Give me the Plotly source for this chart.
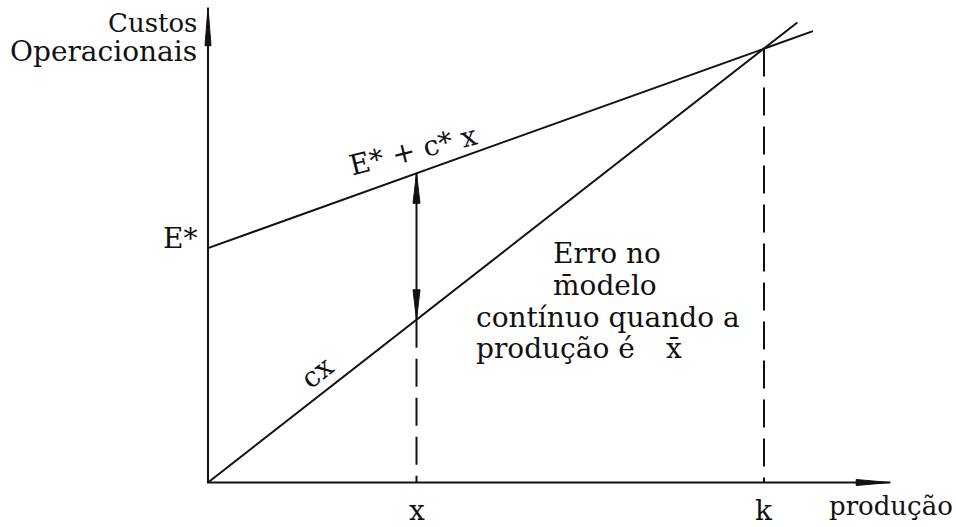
import plotly.graph_objects as go

# ---------------- data (model units) ----------------
x_bar = 3.75          # production level x̄
k = 10.0              # break-even production k
E_star = 5.4          # fixed cost E*
cost_at_k = 10.0      # cost where both lines meet
cost_cx_at_xbar = 3.75    # c·x̄
cost_e_at_xbar = 7.125    # E* + c*·x̄

cx_x = [0.0, 10.6]        # line c x
cx_y = [0.0, 10.6]
e_x = [0.0, 10.88]        # line E* + c* x
e_y = [5.4, 10.4]

x_axis_max = 12.27
y_axis_max = 10.94

x_tick_labels = ["x", "k"]
x_tick_vals = [x_bar, k]

# ---------------- pixel <-> data mapping ----------------
W, H = 956, 527
X0, SX = 208.0, 55.6     # px of x=0, px per unit
Y0, SY = 482.5, 43.4     # px of y=0, px per unit
xr = [(0 - X0) / SX, (W - X0) / SX]
yr = [(Y0 - H) / SY, (Y0 - 0) / SY]

def dx(px):  # pixel length -> data x
    return px / SX

def dy(px):
    return px / SY

def ax(px):  # pixel position -> data x
    return (px - X0) / SX

def ay(py):
    return (Y0 - py) / SY

FONT = "DejaVu Serif"
BLACK = "#111111"

fig = go.Figure()

# main lines
fig.add_trace(go.Scatter(x=cx_x, y=cx_y, mode="lines",
                         line=dict(color=BLACK, width=2), hoverinfo="skip"))
fig.add_trace(go.Scatter(x=e_x, y=e_y, mode="lines",
                         line=dict(color=BLACK, width=2), hoverinfo="skip"))
# dashed verticals
fig.add_trace(go.Scatter(x=[k, k], y=[cost_at_k, 0], mode="lines",
                         line=dict(color=BLACK, width=2, dash="28px,11px"),
                         hoverinfo="skip"))
fig.add_trace(go.Scatter(x=[x_bar, x_bar], y=[cost_cx_at_xbar, 0], mode="lines",
                         line=dict(color=BLACK, width=2, dash="28px,11px"),
                         hoverinfo="skip"))
# double arrow shaft
fig.add_trace(go.Scatter(x=[x_bar, x_bar], y=[cost_cx_at_xbar, cost_e_at_xbar],
                         mode="lines", line=dict(color=BLACK, width=2),
                         hoverinfo="skip"))
# axes
fig.add_trace(go.Scatter(x=[0, 0, x_axis_max], y=[y_axis_max, 0, 0], mode="lines",
                         line=dict(color=BLACK, width=2), hoverinfo="skip"))

shapes = []
def head(tipx, tipy, direction, length_px, half_px):
    if direction == "up":
        p = f"M {tipx-dx(half_px)},{tipy-dy(length_px)} L {tipx},{tipy} L {tipx+dx(half_px)},{tipy-dy(length_px)} Z"
    elif direction == "down":
        p = f"M {tipx-dx(half_px)},{tipy+dy(length_px)} L {tipx},{tipy} L {tipx+dx(half_px)},{tipy+dy(length_px)} Z"
    else:  # right
        p = f"M {tipx-dx(length_px)},{tipy+dy(half_px)} L {tipx},{tipy} L {tipx-dx(length_px)},{tipy-dy(half_px)} Z"
    return dict(type="path", path=p, xref="x", yref="y",
                fillcolor=BLACK, line=dict(color=BLACK, width=1))

shapes.append(head(0, y_axis_max, "up", 38, 3))
shapes.append(head(x_axis_max, 0, "right", 34, 3))
shapes.append(head(x_bar, cost_e_at_xbar, "up", 30, 3.5))
shapes.append(head(x_bar, cost_cx_at_xbar, "down", 30, 3.5))

ann = []
def label(text, x, y, xanchor="center", yanchor="middle", size=28, angle=0):
    ann.append(dict(text=text, x=x, y=y, xref="x", yref="y", showarrow=False,
                    xanchor=xanchor, yanchor=yanchor, textangle=angle,
                    font=dict(family=FONT, size=size, color=BLACK)))

label("Custos", ax(199), ay(23), xanchor="right", size=26)
label("Operacionais", ax(199), ay(51), xanchor="right")
label("E*", ax(199), ay(238), xanchor="right")
label("E* + c* x", ax(413), ay(150), angle=-14)
label("cx", ax(317), ay(372), angle=-38)
label("Erro no", ax(551), ay(253), xanchor="left")
label("m\u0304odelo", ax(551), ay(285), xanchor="left")
label("cont\u00ednuo quando a", ax(474), ay(317), xanchor="left")
label("produ\u00e7\u00e3o \u00e9", ax(474), ay(348), xanchor="left")
label("x\u0304", ax(674), ay(348))
for t, v in zip(x_tick_labels, x_tick_vals):
    label(t, v, ay(510))
label("produ\u00e7\u00e3o", ax(955), ay(506), xanchor="right", size=26)

fig.update_layout(
    width=W, height=H, autosize=False,
    margin=dict(l=0, r=0, t=0, b=0),
    paper_bgcolor="white", plot_bgcolor="white",
    showlegend=False,
    xaxis=dict(range=xr, visible=False, fixedrange=True),
    yaxis=dict(range=yr, visible=False, fixedrange=True),
    shapes=shapes, annotations=ann,
)

fig.write_html("out.html", config={"displayModeBar": False},
               post_script="document.body.style.margin='0';document.body.style.overflow='hidden';")
